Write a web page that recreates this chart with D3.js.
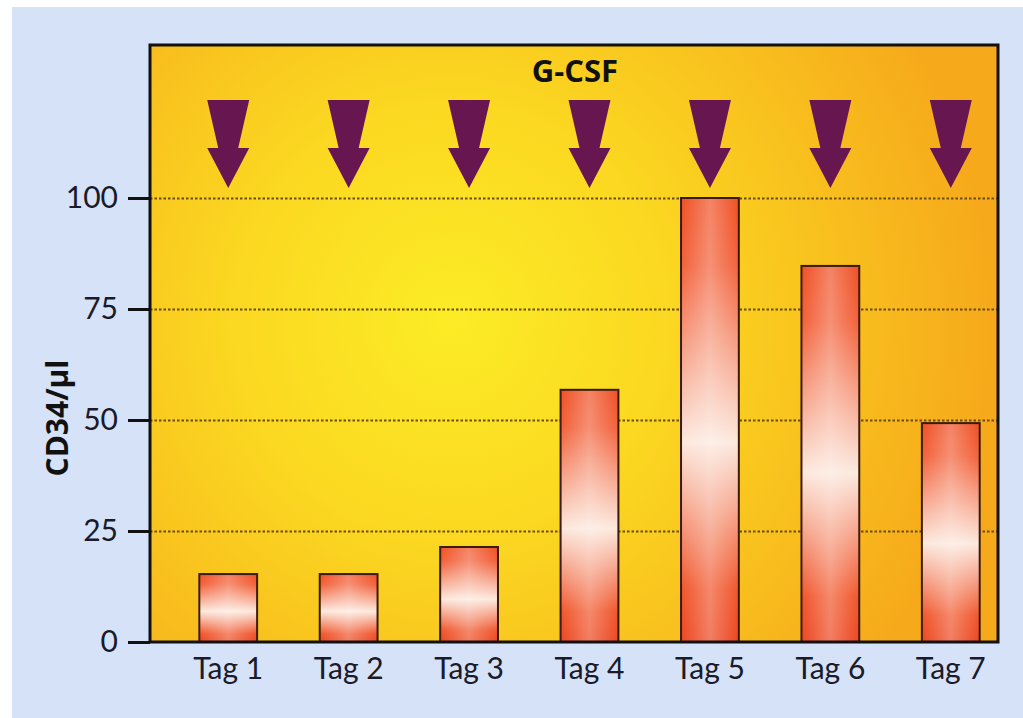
<!DOCTYPE html>
<html>
<head>
<meta charset="utf-8">
<script src="https://cdn.jsdelivr.net/npm/d3@7"></script>
<style>
  body { margin: 0; background: #fff; }
  svg { display: block; }
</style>
</head>
<body>
<script>
// data
var days = ["Tag 1", "Tag 2", "Tag 3", "Tag 4", "Tag 5", "Tag 6", "Tag 7"];
var cd34 = [15.3, 15.3, 21.4, 56.8, 100, 84.7, 49.3];
var yTicks = [0, 25, 50, 75, 100];
var gridTicks = [25, 50, 75, 100];
var title = "G-CSF";
var yLabel = "CD34/\u00b5l";

var W = 1023, H = 718;
var pLeft = 150, pRight = 998, pTop = 45, pBottom = 642;

var svg = d3.select("body").append("svg")
  .attr("width", W)
  .attr("height", H);

var defs = svg.append("defs");

// page background
svg.append("rect")
  .attr("x", 12).attr("y", 7)
  .attr("width", W - 12).attr("height", H - 7)
  .attr("fill", "#d6e2f7");

// plot background gradient
var bg = defs.append("radialGradient")
  .attr("id", "plotbg")
  .attr("gradientUnits", "userSpaceOnUse")
  .attr("cx", 450).attr("cy", 320).attr("r", 540);
bg.append("stop").attr("offset", "0%").attr("stop-color", "#fcec26");
bg.append("stop").attr("offset", "40%").attr("stop-color", "#fbd821");
bg.append("stop").attr("offset", "100%").attr("stop-color", "#f6aa1b");

// bar gradients
var vg = defs.append("linearGradient")
  .attr("id", "barv").attr("x1", 0).attr("y1", 0).attr("x2", 0).attr("y2", 1);
vg.append("stop").attr("offset", "0%").attr("stop-color", "#ef5024");
vg.append("stop").attr("offset", "15%").attr("stop-color", "#f2613a");
vg.append("stop").attr("offset", "55%").attr("stop-color", "#fce8dd");
vg.append("stop").attr("offset", "88%").attr("stop-color", "#f0562c");
vg.append("stop").attr("offset", "100%").attr("stop-color", "#ec4620");

var hg = defs.append("linearGradient")
  .attr("id", "barh").attr("x1", 0).attr("y1", 0).attr("x2", 1).attr("y2", 0);
hg.append("stop").attr("offset", "0%").attr("stop-color", "#fff").attr("stop-opacity", 0);
hg.append("stop").attr("offset", "50%").attr("stop-color", "#fff").attr("stop-opacity", 0.3);
hg.append("stop").attr("offset", "100%").attr("stop-color", "#fff").attr("stop-opacity", 0);

var x = d3.scaleBand()
  .domain(days)
  .range([168, 1011])
  .paddingInner(0.52)
  .paddingOuter(0.26);

var y = d3.scaleLinear()
  .domain([0, 100])
  .range([pBottom, 198]);

svg.append("rect")
  .attr("x", pLeft).attr("y", pTop)
  .attr("width", pRight - pLeft).attr("height", pBottom - pTop)
  .attr("fill", "url(#plotbg)");

// dotted grid
var grid = svg.append("g")
  .attr("transform", "translate(" + pLeft + ",0)")
  .call(d3.axisLeft(y).tickValues(gridTicks).tickSize(-(pRight - pLeft)).tickFormat(""));
grid.select(".domain").remove();
grid.selectAll("line")
  .attr("stroke", "#6a4c12")
  .attr("stroke-width", 2)
  .attr("stroke-dasharray", "2.5,2");

// bars
var bars = svg.append("g").selectAll("g")
  .data(days)
  .enter().append("g");

bars.append("rect")
  .attr("x", function(d) { return x(d); })
  .attr("y", function(d, i) { return y(cd34[i]); })
  .attr("width", x.bandwidth())
  .attr("height", function(d, i) { return pBottom - y(cd34[i]); })
  .attr("fill", "url(#barv)");

bars.append("rect")
  .attr("x", function(d) { return x(d); })
  .attr("y", function(d, i) { return y(cd34[i]); })
  .attr("width", x.bandwidth())
  .attr("height", function(d, i) { return pBottom - y(cd34[i]); })
  .attr("fill", "url(#barh)")
  .attr("stroke", "#3b1a0c")
  .attr("stroke-width", 2);

// G-CSF arrows
var arrow = "M-21,0 L21,0 L10,48 L21,48 L0,88 L-21,48 L-10,48 Z";
svg.append("g").selectAll("path")
  .data(days)
  .enter().append("path")
  .attr("d", arrow)
  .attr("transform", function(d) { return "translate(" + (x(d) + x.bandwidth() / 2) + ",100)"; })
  .attr("fill", "#68164f");

svg.append("text")
  .attr("x", 575)
  .attr("y", 82)
  .attr("text-anchor", "middle")
  .attr("font-family", "'Open Sans', sans-serif")
  .attr("font-weight", "bold")
  .attr("font-size", 31)
  .attr("fill", "#111")
  .text(title);

// frame
svg.append("rect")
  .attr("x", pLeft).attr("y", pTop)
  .attr("width", pRight - pLeft).attr("height", pBottom - pTop)
  .attr("fill", "none")
  .attr("stroke", "#111")
  .attr("stroke-width", 3);

// y axis
var yAxis = svg.append("g")
  .attr("transform", "translate(" + pLeft + ",0)")
  .call(d3.axisLeft(y).tickValues(yTicks).tickSize(22).tickPadding(10));
yAxis.select(".domain").remove();
yAxis.selectAll("line").attr("stroke", "#111").attr("stroke-width", 3);
yAxis.selectAll("text")
  .attr("font-family", "Lato, sans-serif")
  .attr("font-size", 30)
  .attr("fill", "#1a1a2a");

// x axis labels
var xAxis = svg.append("g")
  .attr("transform", "translate(0," + pBottom + ")")
  .call(d3.axisBottom(x).tickSize(0).tickPadding(16));
xAxis.select(".domain").remove();
xAxis.selectAll("text")
  .attr("font-family", "Lato, sans-serif")
  .attr("font-size", 30)
  .attr("fill", "#1a1a2a");

svg.append("text")
  .attr("transform", "translate(68,418) rotate(-90)")
  .attr("text-anchor", "middle")
  .attr("font-family", "'Open Sans', sans-serif")
  .attr("font-weight", "bold")
  .attr("font-size", 30)
  .attr("fill", "#111")
  .text(yLabel);
</script>
</body>
</html>
